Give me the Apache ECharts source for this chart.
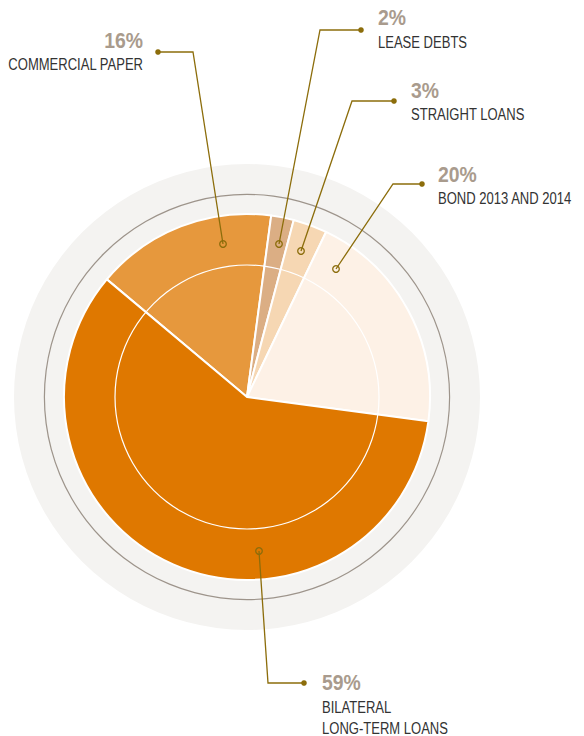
<!DOCTYPE html>
<html>
<head>
<meta charset="utf-8">
<script src="https://cdn.jsdelivr.net/npm/echarts@6/dist/echarts.min.js"></script>
<style>
  html, body { margin: 0; padding: 0; background: #fff; }
  #chart { width: 584px; height: 736px; }
</style>
</head>
<body>
<div id="chart"></div>
<script>
// data
var names = ['COMMERCIAL PAPER', 'LEASE DEBTS', 'STRAIGHT LOANS', 'BOND 2013 AND 2014', 'BILATERAL\nLONG-TERM LOANS'];
var shares = [16, 2, 3, 20, 59];
var sliceColors = ['#e6983d', '#dbae84', '#f6d7b3', '#fdf1e6', '#df7800'];

// layout of the callouts (pixels): inner point, elbow, dot, text x, percent y, name y
var callouts = [
  { inner: [223, 244], elbow: [193, 52], dot: [158, 52], tx: 143, py: 40, ny: 64.5, align: 'right' },
  { inner: [279, 244], elbow: [320, 30], dot: [361, 30], tx: 378, py: 17.5, ny: 42.5, align: 'left' },
  { inner: [301, 251], elbow: [352, 101], dot: [394, 101], tx: 411, py: 90.5, ny: 114, align: 'left' },
  { inner: [336, 269], elbow: [393, 184], dot: [422, 184], tx: 438, py: 174.5, ny: 198, align: 'left' },
  { inner: [259, 551], elbow: [268, 683], dot: [304, 683], tx: 322, py: 682.5, ny: 707, align: 'left' }
];

var center = [247, 397];
var lineColor = '#8c6d0b';
var fontFam = '"Liberation Sans", Arial, sans-serif';
var narrow = 0.79;    // squeeze to look like a condensed face
var narrowPct = 0.88;

var myChart = echarts.init(document.getElementById('chart'), null, { renderer: 'svg' });

var graphics = [];
callouts.forEach(function (c, i) {
  graphics.push({
    type: 'polyline', z: 10, silent: true,
    shape: { points: [c.inner, c.elbow, c.dot] },
    style: { stroke: lineColor, lineWidth: 1.3, fill: null }
  });
  graphics.push({
    type: 'circle', z: 11, silent: true,
    shape: { cx: c.inner[0], cy: c.inner[1], r: 3.3 },
    style: { stroke: lineColor, lineWidth: 1.3, fill: 'none' }
  });
  graphics.push({
    type: 'circle', z: 11, silent: true,
    shape: { cx: c.dot[0], cy: c.dot[1], r: 2.8 },
    style: { fill: lineColor }
  });
  graphics.push({
    type: 'text', z: 11, silent: true,
    x: c.tx, y: c.py, scaleX: narrowPct,
    style: {
      x: 0, y: 0, text: shares[i] + '%', fill: '#a99b8d',
      font: 'bold 22px ' + fontFam, textAlign: c.align, textVerticalAlign: 'middle'
    }
  });
  var lines = names[i].split('\n');
  lines.forEach(function (t, k) {
    graphics.push({
      type: 'text', z: 11, silent: true,
      x: c.tx, y: c.ny + k * 21.5, scaleX: narrow,
      style: {
        x: 0, y: 0, text: t, fill: '#333333',
        font: '16.5px ' + fontFam, textAlign: c.align, textVerticalAlign: 'middle'
      }
    });
  });
});

var pieData = names.map(function (n, i) {
  return { name: n, value: shares[i], itemStyle: { color: sliceColors[i] } };
});

var option = {
  animation: false,
  graphic: graphics,
  series: [
    { // light grey disc behind
      type: 'pie', center: center, radius: [0, 233], silent: true,
      label: { show: false }, labelLine: { show: false },
      data: [{ value: 1, itemStyle: { color: '#f4f3f1' } }]
    },
    { // thin grey ring
      type: 'pie', center: center, radius: [202, 203.2], silent: true,
      label: { show: false }, labelLine: { show: false },
      data: [{ value: 1, itemStyle: { color: '#9d948b' } }]
    },
    {
      type: 'pie', center: center, radius: [0, 183],
      startAngle: 140, clockwise: true, silent: true,
      label: { show: false }, labelLine: { show: false },
      itemStyle: { borderColor: '#ffffff', borderWidth: 2 },
      data: pieData
    },
    { // inner white circle line
      type: 'pie', center: center, radius: [131.4, 132.6], silent: true,
      label: { show: false }, labelLine: { show: false },
      data: [{ value: 1, itemStyle: { color: '#ffffff' } }]
    }
  ]
};

myChart.setOption(option);
</script>
</body>
</html>
